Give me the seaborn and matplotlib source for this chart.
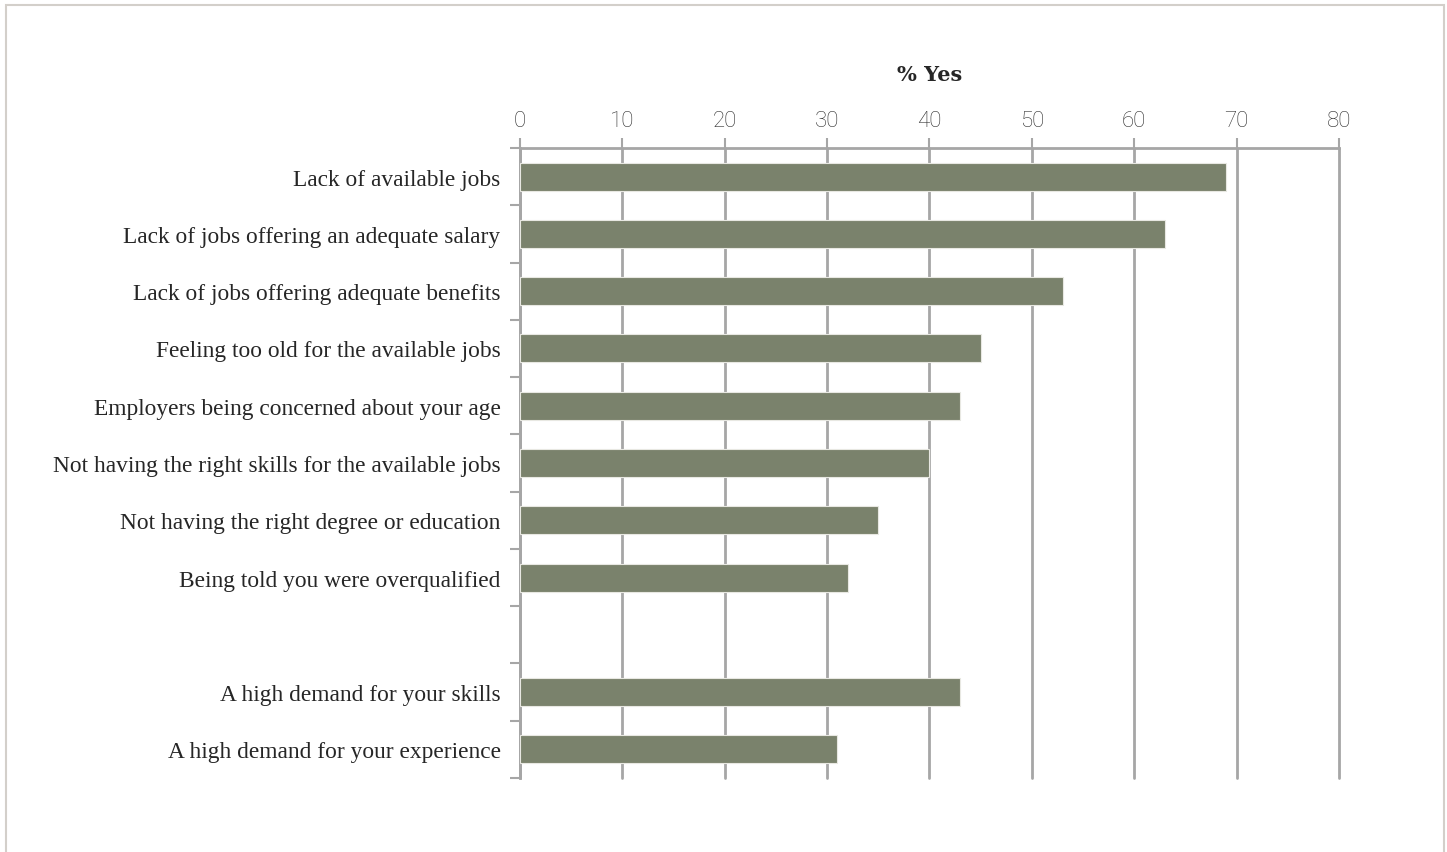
import matplotlib
matplotlib.use("Agg")
import matplotlib.pyplot as plt
from matplotlib.patches import Rectangle
import seaborn as sns
import pandas as pd
import numpy as np

categories = [
    "Lack of available jobs",
    "Lack of jobs offering an adequate salary",
    "Lack of jobs offering adequate benefits",
    "Feeling too old for the available jobs",
    "Employers being concerned about your age",
    "Not having the right skills for the available jobs",
    "Not having the right degree or education",
    "Being told you were overqualified",
    "A high demand for your skills",
    "A high demand for your experience",
]
values = [69, 63, 53, 45, 43, 40, 35, 32, 43, 31]
# Empty slot separating the two groups of reasons
order = categories[:8] + [" "] + categories[8:]
x_ticks = [0, 10, 20, 30, 40, 50, 60, 70, 80]
axis_title = "% Yes"

sns.set_theme(style="white")
plt.rcParams["font.family"] = ["Liberation Serif", "DejaVu Serif"]

grid_color = "#A6A6A6"
bar_color = "#7A826C"

df = pd.DataFrame({"reason": categories, "pct": values})

fig = plt.figure(figsize=(14.47, 8.53), dpi=100)
ax = fig.add_axes([520 / 1447, 1 - 779 / 853, (1339 - 520) / 1447, (779 - 149) / 853])

sns.barplot(data=df, y="reason", x="pct", order=order, color=bar_color,
            saturation=1, width=0.49, edgecolor="#E8E8E2", linewidth=0.8,
            ax=ax, zorder=3)

ax.set_xlim(0, 80)
ax.set_ylim(len(order) - 0.5, -0.5)
ax.set_xticks(x_ticks)
ax.xaxis.tick_top()
ax.xaxis.set_label_position("top")
ax.set_xlabel(axis_title, fontsize=15, fontweight="bold", labelpad=22,
              family=["DejaVu Serif"])
ax.set_ylabel("")

ax.tick_params(axis="x", which="major", length=7, width=1.5, color=grid_color,
               labelsize=16, pad=5, labelcolor="#2E2E2E")
for lab in ax.get_xticklabels():
    lab.set_family(["Roboto", "DejaVu Sans"])
    lab.set_fontweight("light")

ax.set_yticks(range(len(order)))
ax.set_yticklabels(order)
ax.set_yticks(np.arange(-0.5, len(order), 1.0), minor=True)
ax.tick_params(axis="y", which="major", length=0, labelsize=16.8, pad=14,
               labelcolor="#262626")
ax.tick_params(axis="y", which="minor", length=7, width=1.5, color=grid_color,
               left=True)

ax.grid(axis="x", color=grid_color, linewidth=2, zorder=0)
ax.grid(axis="y", visible=False)
for gl in ax.xaxis.get_gridlines():
    gl.set_clip_on(False)
for side in ["bottom", "right"]:
    ax.spines[side].set_visible(False)
for side in ["top", "left"]:
    ax.spines[side].set_visible(True)
    ax.spines[side].set_color(grid_color)
    ax.spines[side].set_linewidth(2)
ax.set_axisbelow(True)

# Outer frame around the chart
fig.patches.append(Rectangle((6 / 1447, -0.01), (1444 - 6) / 1447, 1 - 6 / 853 + 0.01,
                             transform=fig.transFigure, fill=False,
                             edgecolor="#D3CFCA", linewidth=1.5))

fig.savefig("out.png", dpi=100, facecolor="white")
